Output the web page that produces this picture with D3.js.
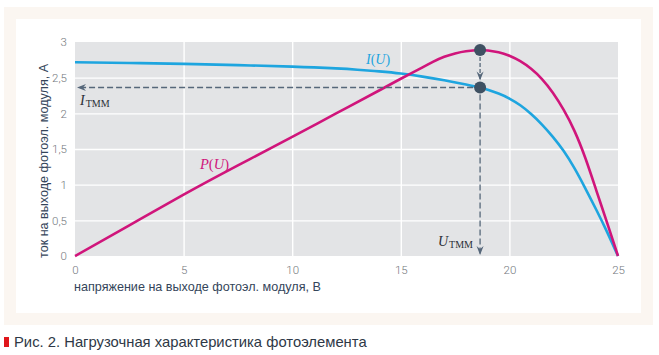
<!DOCTYPE html>
<html><head><meta charset="utf-8">
<script src="https://cdn.jsdelivr.net/npm/d3@7"></script>
<style>
html,body{margin:0;padding:0;background:#fff;}
svg{display:block;}
</style>
</head><body>
<svg id="chart" width="659" height="355"></svg>
<script>
// ---- data ----
const xTicks = [0, 5, 10, 15, 20, 25];
const yTicks = [0, 0.5, 1, 1.5, 2, 2.5, 3];
const iU   = [0, 2.5, 5, 7.5, 10, 11, 12, 13, 14, 15, 16, 17, 18, 18.65, 19, 19.5, 20, 20.5, 21, 21.5, 22, 22.5, 23, 23.5, 24, 24.5, 25];
const iVal = [2.716, 2.706, 2.693, 2.676, 2.655, 2.644, 2.630, 2.612, 2.588, 2.558, 2.515, 2.463, 2.405, 2.362, 2.330, 2.277, 2.207, 2.113, 1.991, 1.843, 1.671, 1.471, 1.227, 0.945, 0.648, 0.335, 0];
const pU   = [0, 2.5, 5, 7.5, 10, 12, 14, 15, 16, 16.5, 17, 17.5, 18, 18.65, 19, 19.5, 20, 20.5, 21, 21.5, 22, 22.5, 23, 23.5, 24, 24.5, 25];
const pVal = [0, 0.43, 0.86, 1.27, 1.67, 1.995, 2.32, 2.485, 2.645, 2.725, 2.793, 2.84, 2.871, 2.887, 2.881, 2.856, 2.807, 2.731, 2.624, 2.480, 2.289, 2.048, 1.751, 1.370, 0.921, 0.464, 0];
const mppU = [18.65];
const mppI = [2.362];
const mppP = [2.887];
const xTitle = "напряжение на выходе фотоэл. модуля, В";
const yTitle = "ток на выходе фотоэл. модуля, А";
const caption = "Рис. 2. Нагрузочная характеристика фотоэлемента";

// ---- layout ----
const svg = d3.select("#chart");
const L = 75, R = 618, T = 42, B = 256;
const x = d3.scaleLinear().domain([0, 25]).range([L, R]);
const y = d3.scaleLinear().domain([0, 3]).range([B, T]);
const loc = d3.formatLocale({decimal: ",", thousands: " ", grouping: [3], currency: ["", ""]});
const fmt = loc.format("~g");

const blue = "#1ea5df", magenta = "#d0157b", slate = "#3e5062", dash = "#56677a";

// frame
svg.append("rect").attr("x", 4).attr("y", 7).attr("width", 649).attr("height", 318).attr("fill", "#fbf6f1");
svg.append("rect").attr("x", 16).attr("y", 19).attr("width", 625).attr("height", 294).attr("fill", "#ffffff");

// plot background
svg.append("rect").attr("x", L).attr("y", T).attr("width", R - L).attr("height", B - T).attr("fill", "#e3e4e6");

// grid
const gx = svg.append("g").attr("transform", `translate(0,${B})`)
  .call(d3.axisBottom(x).tickValues(xTicks.slice(1, -1)).tickSize(-(B - T)).tickFormat(""));
gx.select(".domain").remove();
gx.selectAll("line").attr("stroke", "#ffffff").attr("stroke-width", 1.4);
const gy = svg.append("g").attr("transform", `translate(${L},0)`)
  .call(d3.axisLeft(y).tickValues(yTicks.slice(1, -1)).tickSize(-(R - L)).tickFormat(""));
gy.select(".domain").remove();
gy.selectAll("line").attr("stroke", "#ffffff").attr("stroke-width", 1.4);

// axes labels
const ax = svg.append("g").attr("transform", `translate(0,${B})`)
  .call(d3.axisBottom(x).tickValues(xTicks).tickSize(0).tickPadding(10).tickFormat(fmt));
ax.select(".domain").remove();
ax.selectAll("text").attr("fill", "#73777d").attr("font-family", "Roboto, 'Liberation Sans', sans-serif")
  .attr("font-weight", 300).attr("font-size", 11.5);
const ay = svg.append("g").attr("transform", `translate(${L},0)`)
  .call(d3.axisLeft(y).tickValues(yTicks).tickSize(0).tickPadding(8).tickFormat(fmt));
ay.select(".domain").remove();
ay.selectAll("text").attr("fill", "#73777d").attr("font-family", "Roboto, 'Liberation Sans', sans-serif")
  .attr("font-weight", 300).attr("font-size", 11.5);

svg.append("text").attr("x", L - 1).attr("y", 291).text(xTitle)
  .attr("font-family", "'Liberation Sans', Arial, sans-serif").attr("font-size", 12.6).attr("fill", "#34455a");
svg.append("text").attr("transform", `translate(48,258) rotate(-90)`).text(yTitle)
  .attr("font-family", "'Liberation Sans', Arial, sans-serif").attr("font-size", 12.6).attr("fill", "#34455a");

// curves
const line = d3.line().x(d => x(d[0])).y(d => y(d[1])).curve(d3.curveNatural);
svg.append("path").datum(d3.zip(iU, iVal)).attr("d", line)
  .attr("fill", "none").attr("stroke", blue).attr("stroke-width", 2.6);
svg.append("path").datum(d3.zip(pU, pVal)).attr("d", line)
  .attr("fill", "none").attr("stroke", magenta).attr("stroke-width", 2.6);

// dashed guides
const mx = x(mppU[0]), myI = y(mppI[0]), myP = y(mppP[0]);
const g = svg.append("g").attr("stroke", dash).attr("stroke-width", 1.3).attr("fill", "none");
g.append("line").attr("x1", mx - 7).attr("y1", myI).attr("x2", L + 3).attr("y2", myI).attr("stroke-dasharray", "6,3");
g.append("line").attr("x1", mx).attr("y1", myP + 7).attr("x2", mx).attr("y2", myI - 7).attr("stroke-dasharray", "4,2");
g.append("line").attr("x1", mx).attr("y1", myI + 7).attr("x2", mx).attr("y2", B - 2).attr("stroke-dasharray", "6,3");
// arrow heads
const ah = svg.append("g").attr("fill", dash).attr("stroke", "none");
ah.append("path").attr("d", `M${L + 2},${myI} l9,-3.5 l-3,3.5 l3,3.5 z`);
ah.append("path").attr("d", `M${mx},${myI - 7} l-3.5,-9 l3.5,3 l3.5,-3 z`);
ah.append("path").attr("d", `M${mx},${B - 1} l-3.5,-9 l3.5,3 l3.5,-3 z`);

// dots
svg.append("circle").attr("cx", mx).attr("cy", myP).attr("r", 6).attr("fill", slate);
svg.append("circle").attr("cx", mx).attr("cy", myI).attr("r", 6).attr("fill", slate);

// annotations
const serif = "'Liberation Serif', 'DejaVu Serif', serif";
const it = svg.append("text").attr("x", 80).attr("y", 104.5).attr("font-family", serif).attr("fill", "#2a2e35");
it.append("tspan").text("I").attr("font-style", "italic").attr("font-size", 14);
it.append("tspan").text("TMM").attr("font-size", 10).attr("dy", 2).attr("dx", 1);
const ut = svg.append("text").attr("x", 473).attr("y", 246).attr("text-anchor", "end").attr("font-family", serif).attr("fill", "#2a2e35");
ut.append("tspan").text("U").attr("font-style", "italic").attr("font-size", 14);
ut.append("tspan").text("TMM").attr("font-size", 10).attr("dy", 2).attr("dx", 1);

const il = svg.append("text").attr("x", 366).attr("y", 64).attr("font-family", serif).attr("font-size", 14).attr("fill", blue);
il.append("tspan").text("I").attr("font-style", "italic");
il.append("tspan").text("(");
il.append("tspan").text("U").attr("font-style", "italic");
il.append("tspan").text(")");
const pl = svg.append("text").attr("x", 200).attr("y", 169).attr("font-family", serif).attr("font-size", 14.5).attr("fill", magenta);
pl.append("tspan").text("P").attr("font-style", "italic");
pl.append("tspan").text("(");
pl.append("tspan").text("U").attr("font-style", "italic");
pl.append("tspan").text(")");

// caption
svg.append("rect").attr("x", 4).attr("y", 337).attr("width", 5).attr("height", 10).attr("fill", "#e0161b");
svg.append("text").attr("x", 14).attr("y", 347).text(caption)
  .attr("font-family", "'Liberation Sans', Arial, sans-serif").attr("font-size", 14.8).attr("fill", "#2e3846");
</script>
</body></html>
